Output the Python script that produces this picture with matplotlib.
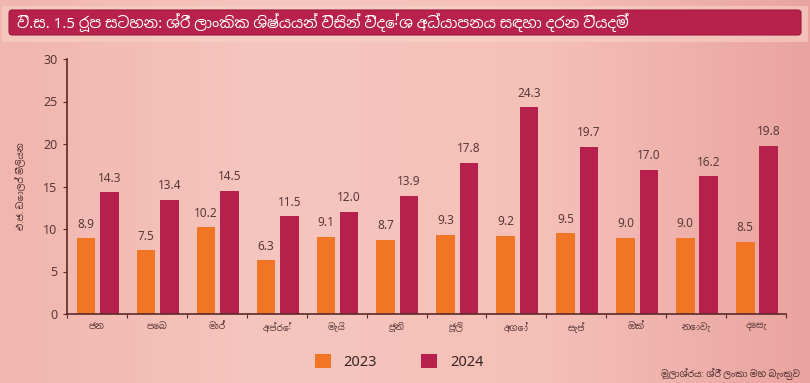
import matplotlib
matplotlib.use("Agg")
import os
import matplotlib.pyplot as plt
import numpy as np
from matplotlib import font_manager
from matplotlib.patches import FancyBboxPatch, Rectangle
from matplotlib.colors import LinearSegmentedColormap

for p in ["/usr/share/fonts/truetype/google-fonts/NotoSansSinhala[wdth,wght].ttf"]:
    if os.path.exists(p):
        try:
            font_manager.fontManager.addfont(p)
        except Exception:
            pass

plt.rcParams['font.family'] = ['Noto Sans', 'Noto Sans Sinhala', 'DejaVu Sans']

months = ["ජන", "පෙබ", "මාර්", "අප්‍රේ", "මැයි", "ජූනි", "ජූලි", "අගෝ", "සැප්", "ඔක්", "නොවැ", "දෙසැ"]
v2023 = [8.9, 7.5, 10.2, 6.3, 9.1, 8.7, 9.3, 9.2, 9.5, 9.0, 9.0, 8.5]
v2024 = [14.3, 13.4, 14.5, 11.5, 12.0, 13.9, 17.8, 24.3, 19.7, 17.0, 16.2, 19.8]
series_labels = ["2023", "2024"]
title = "වි.ස. 1.5 රූප සටහන: ශ්‍රී ලාංකික ශිෂ්‍යයන් විසින් විදේශ අධ්‍යාපනය සඳහා දරන වියදම්"
ylabel = "එ.ජ. ඩොලර් මිලියන"
source = "මූලාශ්‍රය: ශ්‍රී ලංකා මහ බැංකුව"

W, H = 810, 383
fig = plt.figure(figsize=(W / 100, H / 100), dpi=100)

# background gradient
bg = fig.add_axes([0, 0, 1, 1], zorder=0)
cmap = LinearSegmentedColormap.from_list("bg", ["#f1b6ae", "#f6c6be", "#f5c0b8", "#eaa4a0"])
grad = np.linspace(0, 1, 256).reshape(1, -1)
bg.imshow(grad, aspect="auto", cmap=cmap, extent=[0, 1, 0, 1])
bg.set_xlim(0, 1); bg.set_ylim(0, 1)
bg.axis("off")

def fx(px): return px / W
def fy(py): return 1 - py / H

# title bar
bg.add_patch(Rectangle((fx(2), fy(42)), fx(806), 36 / H, facecolor="#f8d2ca", edgecolor="none", alpha=0.6))
bg.add_patch(FancyBboxPatch((fx(9), fy(35)), fx(792), 25 / H,
                            boxstyle="round,pad=0,rounding_size=0.004",
                            facecolor="#b8214b", edgecolor="#9c1a3e", linewidth=0.8,
                            mutation_aspect=W / H))
bg.text(fx(17), fy(22.5), title, color="white", fontsize=10.8, va="center", ha="left")

# main axes
ax = fig.add_axes([67 / W, 1 - 314 / H, (786 - 67) / W, (314 - 59) / H], zorder=1)
ax.patch.set_alpha(0)
n = len(months)
x = np.arange(n) + 0.5
bw = 0.31
c23, c24 = "#f07626", "#b7204c"
lab_col = "#5a3838"
b1 = ax.bar(x - 0.18, v2023, bw, color=c23, label=series_labels[0])
b2 = ax.bar(x + 0.21, v2024, bw, color=c24, label=series_labels[1])
for xi, v in zip(x - 0.18, v2023):
    ax.text(xi, v + 0.9, f"{v:.1f}", ha="center", va="bottom", fontsize=8.5, color=lab_col)
for xi, v in zip(x + 0.21, v2024):
    ax.text(xi, v + 0.9, f"{v:.1f}", ha="center", va="bottom", fontsize=8.5, color=lab_col)

ax.set_xlim(0, n)
ax.set_ylim(0, 30)
ax.set_yticks(np.arange(0, 31, 5))
ax.set_xticks(np.arange(0, n + 1))
ax.set_xticklabels([])
ax.set_xticks(x, minor=True)
ax.set_xticklabels(months, minor=True, fontsize=6.5, color=lab_col)
ax.tick_params(axis="x", which="minor", length=0, pad=6)
ax.tick_params(axis="x", which="major", length=3, color="#5a2a2a", direction="out")
ax.tick_params(axis="y", length=3, color="#5a2a2a", labelsize=9, labelcolor=lab_col, pad=4)
for s in ["top", "right"]:
    ax.spines[s].set_visible(False)
for s in ["left", "bottom"]:
    ax.spines[s].set_color("#5a2a2a")
    ax.spines[s].set_linewidth(1.2)
ax.set_ylabel(ylabel, fontsize=6.5, color="#4a2c2c", labelpad=12, fontweight="bold")

leg = fig.legend(handles=[b1, b2], labels=series_labels, loc="center", bbox_to_anchor=(fx(399), fy(362)),
                 ncol=2, frameon=False, fontsize=10.5, handlelength=1.1, handleheight=1.1,
                 columnspacing=3.0, handletextpad=0.9)
for t in leg.get_texts():
    t.set_color("#3a2525"); t.set_fontweight("bold")

fig.text(fx(800), fy(374), source, ha="right", va="center", fontsize=6.5, color="#4a2c2c")

fig.savefig("out.png", dpi=100)
